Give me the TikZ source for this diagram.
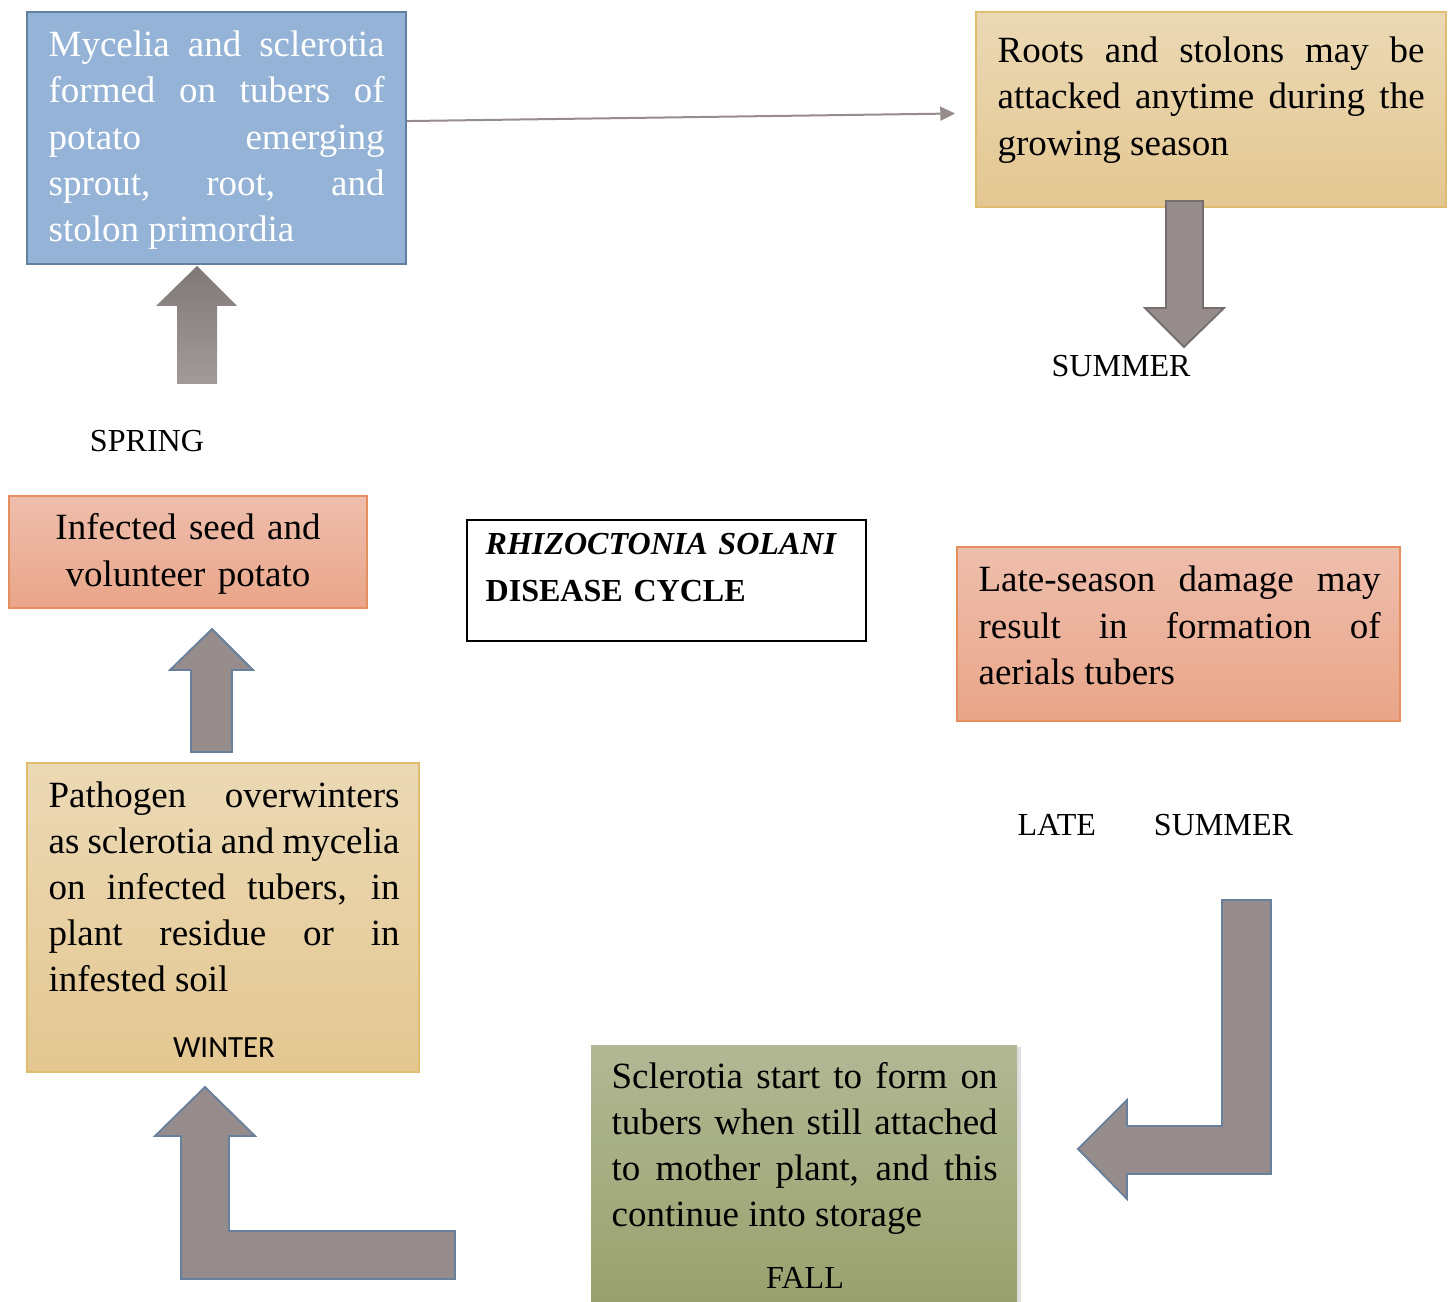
\documentclass[tikz,border=0pt]{standalone}
\usepackage{fontspec}
\setmainfont{Liberation Serif}
\newfontfamily\calibrifont{Carlito}
\usetikzlibrary{arrows.meta,positioning,calc,fit,shadows}

\newdimen\pxu
\pxu=0.3243pt

\definecolor{boxblue}{RGB}{149,179,214}
\definecolor{boxblueline}{RGB}{98,128,160}
\definecolor{tantop}{RGB}{235,217,181}
\definecolor{tanbot}{RGB}{228,199,145}
\definecolor{tanline}{RGB}{224,188,112}
\definecolor{salmtop}{RGB}{238,190,172}
\definecolor{salmbot}{RGB}{233,165,137}
\definecolor{salmline}{RGB}{229,142,94}
\definecolor{olivetop}{RGB}{177,184,148}
\definecolor{olivebot}{RGB}{153,162,110}
\definecolor{arrowgrey}{RGB}{150,140,140}
\definecolor{arrowline}{RGB}{104,128,156}
\definecolor{arrowdark}{RGB}{118,110,110}
\definecolor{springtop}{RGB}{128,119,119}
\definecolor{springbot}{RGB}{163,154,154}

\tikzset{
	boxtext/.style={anchor=base west, inner sep=0pt, align=justify,
		font={\fontsize{12}{14.92}\selectfont\tolerance=10000\hyphenpenalty=10000}},
	season/.style={anchor=base, inner sep=0pt, font={\fontsize{10.4}{14.92}\selectfont}},
	stagebox/.style={inner sep=0pt, line width=0.6pt},
	blockarrow/.style={fill=arrowgrey, draw=arrowline, line width=0.6pt, line join=miter},
	flowline/.style={draw=arrowgrey, line width=0.65pt, -{Triangle[length=4.8pt,width=4.5pt]}}
}

\begin{document}
\begin{tikzpicture}[x=\pxu,y=-\pxu]
		\useasboundingbox (0,0) rectangle (1451,1302);
		
		%Shape: Rectangle [spring stage]
		\node [stagebox, fill=boxblue, draw=boxblueline, fit={(27,12) (406,264)}] (myc) {};
		%Shape: Rectangle [summer stage]
		\node [stagebox, top color=tantop, bottom color=tanbot, draw=tanline, fit={(976,12) (1446,207)}] (roots) {};
		%Shape: Rectangle [seed]
		\node [stagebox, top color=salmtop, bottom color=salmbot, draw=salmline, fit={(9,496) (367,608)}] (seed) {};
		%Shape: Rectangle [title]
		\node [stagebox, fill=white, draw=black, line width=0.8pt, fit={(467,520) (866,641)}] (title) {};
		%Shape: Rectangle [late summer stage]
		\node [stagebox, top color=salmtop, bottom color=salmbot, draw=salmline, fit={(957,547) (1400,721)}] (late) {};
		%Shape: Rectangle [winter stage]
		\node [stagebox, top color=tantop, bottom color=tanbot, draw=tanline, fit={(27,763) (419,1072)}] (winter) {};
		%Shape: Rectangle [fall stage]
		\node [stagebox, top color=olivetop, bottom color=olivebot, drop shadow={opacity=0.25,shadow xshift=1.2pt,shadow yshift=-0.8pt}, fit={(591,1045) (1017,1302)}] (fall) {};
		
		%Straight Lines [spring -> summer]
		\draw [flowline] ($(myc.north east)+(0,110)$) -- ($(roots.west)+(-20,4)$);
		
		%Shape: Up Arrow [under spring stage]
		\path [top color=springtop, bottom color=springbot] (177,384) -- (177,306) -- (156,306) -- (197,266) -- (237,306) -- (217,306) -- (217,384) -- cycle;
		%Shape: Up Arrow [seed -> spring]
		\draw [blockarrow] (191,752) -- (191,670) -- (170,670) -- (212,629) -- (253,670) -- (232,670) -- (232,752) -- cycle;
		%Shape: Down Arrow [under summer stage]
		\draw [blockarrow, draw=arrowdark] (1166,201) -- (1166,308) -- (1145,308) -- (1184,347) -- (1224,308) -- (1203,308) -- (1203,201) -- cycle;
		%Shape: Bent Arrow [fall -> winter]
		\draw [blockarrow] (455,1231) -- (229,1231) -- (229,1136) -- (255,1136) -- (205,1087) -- (155,1136) -- (181,1136) -- (181,1279) -- (455,1279) -- cycle;
		%Shape: Bent Arrow [late summer -> fall]
		\draw [blockarrow] (1222,900) -- (1271,900) -- (1271,1174) -- (1127,1174) -- (1127,1199) -- (1078,1149) -- (1127,1100) -- (1127,1126) -- (1222,1126) -- cycle;
		
		% Text Node
		\node [boxtext, text=white, text width=336\pxu] (mycTxt) at (48,57) {Mycelia and sclerotia\linebreak formed on tubers of\linebreak potato emerging\linebreak sprout, root, and\linebreak stolon primordia};
		% Text Node
		\node [boxtext, text width=427\pxu] (rootsTxt) at (997,63) {Roots and stolons may be\linebreak attacked anytime during the\linebreak growing season};
		% Text Node
		\node [boxtext, anchor=base, align=center, text width=320\pxu] (seedTxt) at (188,540) {Infected seed and\\volunteer potato};
		% Text Node
		\node [boxtext, align=left, text width=370\pxu, font={\fontsize{10.4}{14.92}\selectfont\bfseries}] (titleTxt) at (485,555) {\textit{RHIZOCTONIA SOLANI}\\DISEASE CYCLE};
		% Text Node
		\node [boxtext, text width=402\pxu] (lateTxt) at (978,592) {Late-season damage may\linebreak result in formation of\linebreak aerials tubers};
		% Text Node
		\node [boxtext, text width=351\pxu] (winterTxt) at (48,807) {Pathogen overwinters\linebreak as sclerotia and mycelia\linebreak on infected tubers, in\linebreak plant residue or in\linebreak infested soil};
		% Text Node
		\node [boxtext, text width=386\pxu] (fallTxt) at (611,1088) {Sclerotia start to form on\linebreak tubers when still attached\linebreak to mother plant, and this\linebreak continue into storage};
		
		% Text Node
		\node [season] (springLbl) at (147,452) {SPRING};
		% Text Node
		\node [season] (summerLbl) at (1121,377) {SUMMER};
		% Text Node
		\node [season, anchor=base west] (lateLbl) at (1017,835) {LATE\hspace{58\pxu}SUMMER};
		% Text Node
		\node [season, font={\calibrifont\fontsize{10}{12}\selectfont}] (winterLbl) at (224,1057) {WINTER};
		% Text Node
		\node [season] (fallLbl) at (805,1288) {FALL};
		
\end{tikzpicture}
\end{document}
